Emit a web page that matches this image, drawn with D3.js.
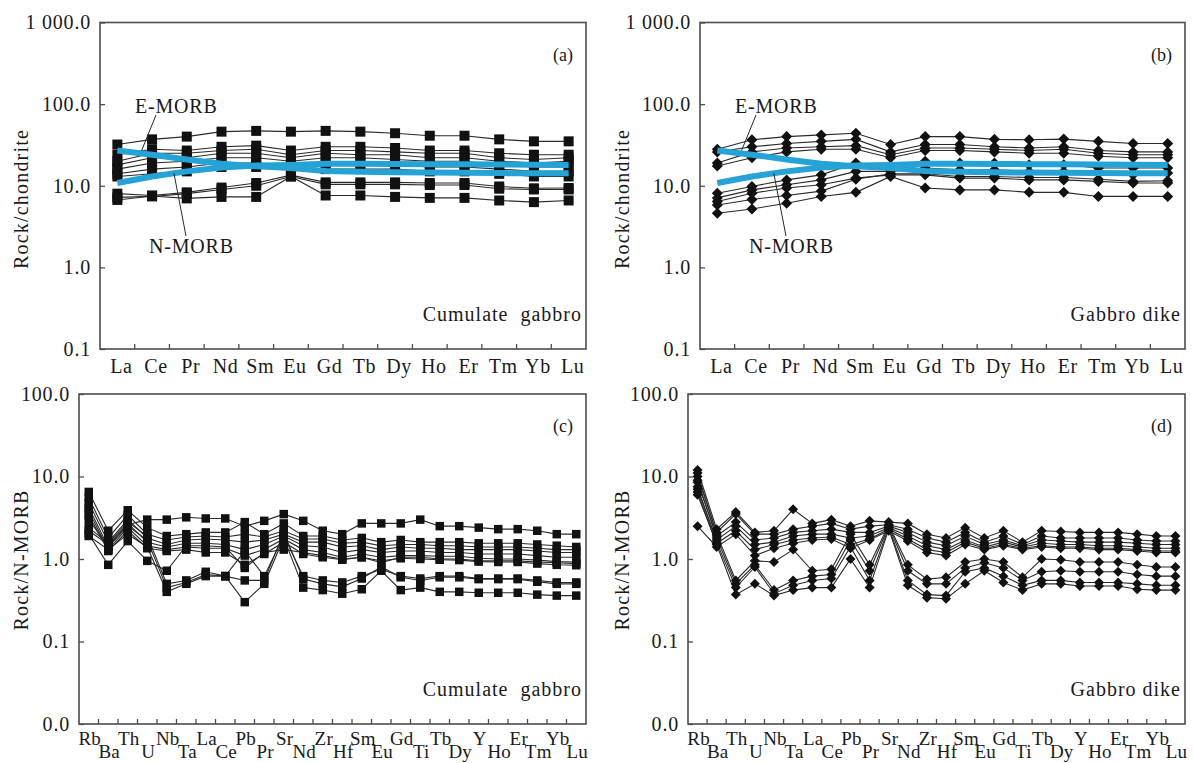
<!DOCTYPE html>
<html>
<head>
<meta charset="utf-8">
<script src="https://cdn.jsdelivr.net/npm/d3@7"></script>
<style>
  body { margin: 0; background: #fff; }
  svg { display: block; }
  text { font-family: "Liberation Serif", "Times New Roman", serif; fill: #1a1a1a; }
</style>
</head>
<body>
<svg width="1194" height="763"></svg>
<script>
// element orders
var ree = ["La","Ce","Pr","Nd","Sm","Eu","Gd","Tb","Dy","Ho","Er","Tm","Yb","Lu"];
var spider = ["Rb","Ba","Th","U","Nb","Ta","La","Ce","Pb","Pr","Sr","Nd","Zr","Hf","Sm","Eu","Gd","Ti","Tb","Dy","Y","Ho","Er","Tm","Yb","Lu"];

// reference curves (chondrite normalised)
var eMorb = [27, 24, 21, 18.6, 17.3, 16.5, 15.2, 14.8, 14.6, 14.5, 14.4, 14.3, 14.2, 14.2];
var nMorb = [10.8, 13, 15, 16.7, 17.7, 18, 18.6, 18.6, 18.5, 18.4, 18.3, 18.2, 18.1, 18];

// cumulate gabbro, REE / chondrite
var cumulateRee = [
  [32, 37, 40, 46, 47, 46, 47, 46, 44, 41, 41, 37, 35, 35],
  [24, 28, 27, 30, 31, 27, 30, 30, 29, 27, 27, 25, 24, 24],
  [20, 25, 25, 27, 28, 24, 27, 27, 26, 25, 25, 22, 21, 22],
  [18, 22, 22, 25, 25, 22, 25, 24, 24, 22, 22, 20, 19, 20],
  [16, 19, 20, 22, 22, 20, 22, 22, 21, 20, 20, 18, 17, 17],
  [14, 16, 17, 19, 19, 18, 19, 19, 18, 17, 17, 16, 15, 15],
  [13, 14, 15, 17, 17, 16, 16, 16, 16, 15, 15, 14, 13, 13],
  [8.0, 7.6, 8.3, 9.5, 10.8, 13.5, 11, 11, 11, 10.8, 10.8, 9.8, 9.3, 9.4],
  [7.2, 7.4, 8.0, 9.0, 10.0, 13.0, 10.4, 10.4, 10.4, 10.2, 10.2, 9.2, 9.0, 9.0],
  [6.7, 7.5, 7.0, 7.3, 7.3, 13.0, 7.6, 7.6, 7.3, 7.1, 7.1, 6.6, 6.3, 6.6]
];

// gabbro dike, REE / chondrite
var dikeRee = [
  [28, 36.6, 40, 42, 44, 32, 40, 40, 37, 36.6, 37.3, 35, 33, 33],
  [26, 30, 33, 35, 37, 26, 32, 32, 30, 29, 30, 27, 26, 26],
  [19, 26, 29, 30, 31, 24, 29, 29, 28, 27, 28, 25, 24, 24],
  [17.5, 22, 26, 28, 28, 22, 27, 27, 26, 25, 25, 23, 22, 22],
  [8.1, 9.8, 11.8, 13.6, 19, 15.7, 19.9, 19, 19, 18.1, 18.1, 16.5, 16.5, 16.5],
  [7.1, 8.9, 10.3, 11.8, 15, 15, 16.5, 15.7, 15.7, 15, 15, 14.3, 13.6, 14.3],
  [6.4, 8.1, 9.4, 10.3, 12.4, 13.6, 13.6, 12.4, 12.4, 11.8, 11.8, 11.3, 10.8, 10.8],
  [5.8, 6.8, 7.6, 8.6, 12.0, 14, 14, 13, 13, 12.6, 12.6, 12, 11.3, 11.5],
  [4.6, 5.2, 6.1, 7.4, 8.3, 13, 9.4, 8.9, 8.9, 8.3, 8.3, 7.4, 7.4, 7.4]
];

// cumulate gabbro, trace elements / N-MORB
var cumulateSpider = [
  [2.2, 1.5, 2.6, 3.0, 3.0, 3.2, 3.1, 3.1, 2.5, 2.9, 3.5, 2.9, 2.2, 2.0, 2.7, 2.7, 2.7, 3.0, 2.5, 2.5, 2.4, 2.3, 2.3, 2.2, 2.0, 2.0],
  [6.5, 2.2, 3.9, 2.4, 1.9, 2.0, 2.1, 2.1, 2.8, 2.0, 2.7, 1.9, 1.9, 1.7, 1.8, 1.6, 1.7, 1.6, 1.6, 1.6, 1.55, 1.55, 1.55, 1.5, 1.45, 1.4],
  [5.5, 1.8, 3.4, 2.0, 1.7, 1.85, 1.9, 1.85, 2.0, 1.85, 2.2, 1.75, 1.75, 1.55, 1.6, 1.45, 1.5, 1.5, 1.45, 1.45, 1.4, 1.4, 1.4, 1.35, 1.3, 1.3],
  [4.8, 1.6, 3.0, 1.8, 1.5, 1.7, 1.75, 1.7, 1.6, 1.7, 2.0, 1.6, 1.6, 1.4, 1.45, 1.3, 1.4, 1.35, 1.35, 1.3, 1.3, 1.3, 1.3, 1.25, 1.2, 1.2],
  [4.2, 1.4, 2.7, 1.6, 1.4, 1.55, 1.55, 1.5, 1.3, 1.5, 1.9, 1.45, 1.4, 1.2, 1.3, 1.2, 1.25, 1.25, 1.2, 1.2, 1.15, 1.15, 1.15, 1.1, 1.05, 1.05],
  [3.8, 1.3, 2.4, 1.45, 1.3, 1.4, 1.35, 1.35, 1.1, 1.3, 1.75, 1.3, 1.2, 1.05, 1.15, 1.05, 1.1, 1.1, 1.08, 1.08, 1.02, 1.0, 1.0, 0.97, 0.93, 0.92],
  [3.4, 1.25, 2.2, 1.35, 1.25, 1.3, 1.2, 1.2, 0.85, 1.15, 1.6, 1.15, 1.05, 0.98, 1.05, 0.95, 1.02, 1.0, 0.98, 0.97, 0.93, 0.92, 0.92, 0.88, 0.85, 0.84],
  [2.0, 0.85, 1.65, 0.95, 0.72, 1.45, 1.45, 1.4, 0.78, 1.2, 1.3, 1.2, 1.1, 1.0, 1.05, 0.9, 1.05, 1.05, 1.0, 1.0, 0.95, 0.95, 0.95, 0.92, 0.9, 0.88],
  [2.4, 1.55, 2.8, 1.9, 0.5, 0.55, 0.7, 0.62, 1.25, 0.62, 1.9, 0.62, 0.55, 0.52, 0.62, 0.75, 0.62, 0.58, 0.62, 0.62, 0.58, 0.58, 0.58, 0.55, 0.52, 0.52],
  [3.0, 1.4, 2.5, 1.7, 0.45, 0.52, 0.65, 0.62, 0.55, 0.55, 2.1, 0.57, 0.5, 0.46, 0.58, 0.8, 0.6, 0.55, 0.6, 0.6, 0.57, 0.57, 0.57, 0.53, 0.5, 0.5],
  [1.9, 1.3, 2.0, 1.4, 0.4, 0.5, 0.62, 0.62, 0.3, 0.5, 1.8, 0.45, 0.42, 0.38, 0.43, 0.72, 0.42, 0.45, 0.4, 0.4, 0.39, 0.39, 0.39, 0.37, 0.36, 0.36]
];

// gabbro dike, trace elements / N-MORB
var dikeSpider = [
  [12, 2.3, 3.7, 2.1, 2.2, 4.0, 2.7, 3.0, 2.5, 2.9, 2.8, 2.7, 2.0, 1.8, 2.4, 1.8, 2.2, 1.6, 2.2, 2.15, 2.1, 2.1, 2.1, 2.0, 1.9, 1.9],
  [10, 2.1, 3.5, 2.0, 2.0, 2.3, 2.5, 2.7, 2.3, 2.5, 2.6, 2.3, 1.8, 1.6, 2.1, 1.6, 1.9, 1.5, 1.9, 1.8, 1.8, 1.8, 1.8, 1.7, 1.65, 1.65],
  [8.5, 1.9, 2.8, 1.7, 1.8, 2.1, 2.2, 2.3, 2.1, 2.1, 2.5, 2.1, 1.6, 1.45, 1.9, 1.5, 1.7, 1.45, 1.7, 1.65, 1.6, 1.6, 1.6, 1.55, 1.5, 1.5],
  [7, 1.7, 2.5, 1.5, 1.6, 1.9, 2.0, 2.0, 1.8, 1.9, 2.4, 1.9, 1.45, 1.3, 1.7, 1.4, 1.6, 1.4, 1.55, 1.5, 1.5, 1.45, 1.45, 1.4, 1.35, 1.35],
  [6.0, 1.55, 2.2, 1.3, 1.5, 1.7, 1.8, 1.85, 1.5, 1.75, 2.3, 1.75, 1.3, 1.2, 1.6, 1.35, 1.5, 1.35, 1.45, 1.4, 1.4, 1.35, 1.35, 1.3, 1.25, 1.25],
  [2.5, 1.4, 2.0, 1.1, 1.35, 1.55, 1.7, 1.75, 1.35, 1.7, 2.2, 1.65, 1.2, 1.1, 1.5, 1.3, 1.45, 1.3, 1.4, 1.35, 1.35, 1.3, 1.3, 1.25, 1.2, 1.2],
  [11, 2.0, 0.55, 0.95, 0.92, 1.3, 0.72, 0.75, 2.0, 0.85, 2.6, 0.85, 0.57, 0.6, 0.92, 1.0, 0.92, 0.6, 1.0, 0.98, 0.92, 0.92, 0.92, 0.85, 0.8, 0.8],
  [9, 1.8, 0.5, 0.85, 0.42, 0.55, 0.62, 0.65, 1.7, 0.72, 2.5, 0.72, 0.5, 0.5, 0.78, 0.9, 0.78, 0.55, 0.7, 0.72, 0.7, 0.7, 0.7, 0.65, 0.62, 0.62],
  [7.5, 1.6, 0.45, 0.8, 0.38, 0.48, 0.55, 0.58, 1.4, 0.55, 2.4, 0.55, 0.37, 0.36, 0.7, 0.78, 0.62, 0.48, 0.55, 0.55, 0.52, 0.52, 0.52, 0.5, 0.48, 0.48],
  [6.5, 1.5, 0.37, 0.5, 0.36, 0.42, 0.45, 0.45, 1.0, 0.45, 2.3, 0.48, 0.34, 0.33, 0.5, 0.72, 0.52, 0.42, 0.5, 0.5, 0.47, 0.47, 0.47, 0.43, 0.42, 0.42]
];

// log axis ticks
var reeTicks = [0.1, 1, 10, 100, 1000];
var reeTickLabels = ["0.1", "1.0", "10.0", "100.0", "1 000.0"];
var spiderTicks = [0.01, 0.1, 1, 10, 100];
var spiderTickLabels = ["0.0", "0.1", "1.0", "10.0", "100.0"];

var svg = d3.select("svg");
var blue = "#26a3d6";

function diamond(r) {
  return "M0," + (-r) + "L" + r + ",0L0," + r + "L" + (-r) + ",0Z";
}

function drawPanel(cfg) {
  var g = svg.append("g");
  var x = d3.scaleBand().domain(cfg.cats).range([cfg.x0, cfg.x1]);
  var y = d3.scaleLog().domain(cfg.domain).range([cfg.y1, cfg.y0]);
  var cx = function(i) { return x(cfg.cats[i]) + x.bandwidth() / 2; };

  // frame
  g.append("rect")
      .attr("x", cfg.x0).attr("y", cfg.y0)
      .attr("width", cfg.x1 - cfg.x0).attr("height", cfg.y1 - cfg.y0)
      .attr("fill", "none").attr("stroke", "#4d4d4d").attr("stroke-width", 1.6);

  // y axis, ticks pointing in
  var ya = g.append("g")
      .attr("transform", "translate(" + cfg.x0 + ",0)")
      .call(d3.axisLeft(y).tickValues(cfg.ticks)
        .tickFormat(function(d, i) { return cfg.tickLabels[i]; })
        .tickSizeInner(-5).tickSizeOuter(0).tickPadding(9));
  ya.select(".domain").remove();
  ya.selectAll(".tick line").attr("stroke", "#4d4d4d").attr("stroke-width", 1.3);
  ya.selectAll("text").attr("font-size", 20).attr("letter-spacing", 0.8).attr("fill", "#1a1a1a");

  // x ticks between elements
  g.selectAll(".xt").data(cfg.cats.slice(1)).enter().append("line")
      .attr("x1", function(d) { return x(d); }).attr("x2", function(d) { return x(d); })
      .attr("y1", cfg.y1).attr("y2", cfg.y1 - 5)
      .attr("stroke", "#4d4d4d").attr("stroke-width", 1.3);

  // element names, staggered on the spidergrams
  g.selectAll(".xl").data(cfg.cats).enter().append("text")
      .attr("x", function(d, i) { return cx(i) + cfg.labelDx; })
      .attr("y", function(d, i) { return cfg.twoRows ? (i % 2 ? cfg.y1 + 34 : cfg.y1 + 21) : cfg.y1 + 24; })
      .attr("text-anchor", "middle").attr("font-size", cfg.twoRows ? 19 : 20)
      .attr("letter-spacing", cfg.twoRows ? 0.2 : 0.6)
      .text(function(d) { return d; });

  // y title
  g.append("text")
      .attr("transform", "translate(" + cfg.titleX + "," + cfg.titleY + ") rotate(-90)")
      .attr("dy", "0.35em")
      .attr("text-anchor", "middle").attr("font-size", 20).attr("letter-spacing", 1.2)
      .text(cfg.yTitle);

  // panel letter and rock type
  g.append("text").attr("x", cfg.x1 - 13).attr("y", cfg.y0 + 38)
      .attr("text-anchor", "end").attr("font-size", 18).text(cfg.letter);
  g.append("text").attr("x", cfg.x1 - 4).attr("y", cfg.y1 - 28)
      .attr("text-anchor", "end").attr("font-size", 20).attr("letter-spacing", 1.0)
      .style("white-space", "pre").text(cfg.rock);

  var line = d3.line().x(function(d, i) { return cx(i); }).y(function(d) { return y(d); });

  var s = g.append("g");
  s.selectAll("path.ln").data(cfg.series).enter().append("path")
      .attr("d", line).attr("fill", "none")
      .attr("stroke", "#2a2a2a").attr("stroke-width", 1.1);

  cfg.series.forEach(function(row) {
    s.selectAll(null).data(row).enter().append("path")
        .attr("transform", function(d, i) { return "translate(" + cx(i) + "," + y(d) + ")"; })
        .attr("d", cfg.marker === "square"
          ? d3.symbol(d3.symbolSquare, cfg.markerSize * cfg.markerSize)()
          : diamond(cfg.markerSize / 2))
        .attr("fill", "#111");
  });

  if (cfg.morb) {
    [eMorb, nMorb].forEach(function(ref) {
      g.append("path").attr("d", line(ref)).attr("fill", "none")
          .attr("stroke", blue).attr("stroke-width", 6);
    });
    var ox = cfg.x0;
    // E-MORB label with leader to the curve between La and Ce
    var ex = cx(0) + 0.7 * x.step();
    g.append("line").attr("x1", ox + 56).attr("y1", 115)
        .attr("x2", ex).attr("y2", y(27))
        .attr("stroke", "#2a2a2a").attr("stroke-width", 1);
    g.append("text").attr("x", ox + 35).attr("y", 113)
        .attr("font-size", 20).attr("letter-spacing", 0.8).text("E-MORB");
    // N-MORB label with leader to the curve between Ce and Pr
    var nx = cx(1) + 0.63 * x.step();
    g.append("line").attr("x1", ox + 86).attr("y1", 236)
        .attr("x2", nx).attr("y2", y(14.2))
        .attr("stroke", "#2a2a2a").attr("stroke-width", 1);
    g.append("text").attr("x", ox + 49).attr("y", 253)
        .attr("font-size", 20).attr("letter-spacing", 0.8).text("N-MORB");
  }
}

var reeBase = { cats: ree, domain: [0.1, 1000], ticks: reeTicks, tickLabels: reeTickLabels,
  y0: 22.5, y1: 349, twoRows: false, labelDx: 4, yTitle: "Rock/chondrite", titleY: 199, morb: true };
var spBase = { cats: spider, domain: [0.01, 100], ticks: spiderTicks, tickLabels: spiderTickLabels,
  y0: 394, y1: 724, twoRows: true, labelDx: 1, yTitle: "Rock/N-MORB", titleY: 560, morb: false };

drawPanel(Object.assign({}, reeBase, { x0: 100, x1: 586, titleX: 21, series: cumulateRee, marker: "square", markerSize: 10,
  letter: "(a)", rock: "Cumulate  gabbro" }));
drawPanel(Object.assign({}, reeBase, { x0: 700, x1: 1185, titleX: 622, series: dikeRee, marker: "diamond", markerSize: 11,
  letter: "(b)", rock: "Gabbro dike" }));
drawPanel(Object.assign({}, spBase, { x0: 79, x1: 586, titleX: 21, series: cumulateSpider, marker: "square", markerSize: 8.5,
  letter: "(c)", rock: "Cumulate  gabbro" }));
drawPanel(Object.assign({}, spBase, { x0: 688, x1: 1185, titleX: 622, series: dikeSpider, marker: "diamond", markerSize: 10,
  letter: "(d)", rock: "Gabbro dike" }));
</script>
</body>
</html>
